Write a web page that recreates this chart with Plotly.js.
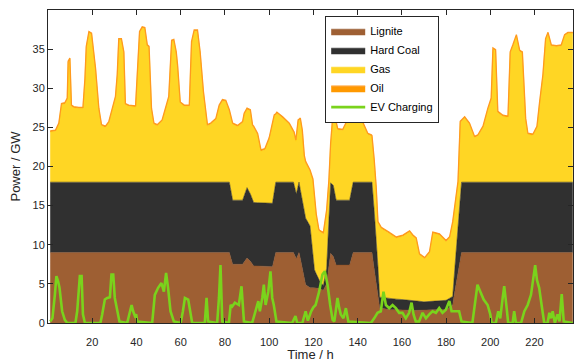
<!DOCTYPE html>
<html>
<head>
<meta charset="utf-8">
<script src="https://cdn.plot.ly/plotly-3.0.1.min.js"></script>
<style>html,body{margin:0;padding:0;background:#fff;}#chart{width:574px;height:362px;}</style>
</head>
<body>
<div id="chart"></div>
<script>
// Time axis key points (hours) for the conventional layers
var lcHours = [1,82,83.5,88,90,91.5,93,101.5,103,111,112.3,113.5,115,116.5,118.5,120.5,122.5,124.5,126,127.8,129,130.3,136.4,138,146.5,148.4,150,155,160,165,170,175,180,183,184.5,187,237.3];
var lignite = [9,9,7.5,7.5,8.3,7.9,7.3,7.2,9,9,8.2,9,7.1,4.9,4.5,4.5,4.4,4.2,5,8.9,8.5,7.4,7.4,9,9,5,1.9,1.7,1.7,1.6,1.6,1.7,1.7,2.3,5,9,9];
var hardCoal = [9,9,8.2,8.2,9.0,8.6,8.1,8.1,9,9,8.3,9,8.5,8.5,7.9,2.3,1.1,0.6,2,9,9.1,8.3,8.3,9,9,6.1,1.4,1.4,1.3,1.3,1.1,1.1,1.2,1.1,4,9,9];

var gasHours = [1,3.4,4.9,6.1,7.6,8.7,9.1,9.9,10.6,11.6,13.9,15.8,16.7,17.3,18.5,19.7,21.5,23,24.2,26,27.5,29,30.5,31.3,32,33.2,34.3,35,36.5,39.6,40.3,41.4,42.6,43.8,44.9,45.7,46.8,47.9,49.4,51.6,53.1,54.6,55.9,56.9,58,58.6,59.8,61.6,63.9,64.9,66.1,67.6,68.8,70.3,72.1,73.6,75.9,77.4,78.9,80.4,82,83.5,85.7,88,88.7,90,91.5,92.5,93,94.8,96.3,98.1,100,101.5,102.3,103,103.5,106.1,109.1,111,111.3,112.1,112.3,113.1,113.5,114.1,115,115.9,116.5,117.5,118.5,119.8,120.5,121.3,122.5,122.8,124.5,126,127,127.8,129,130.3,131,133.3,135.6,136.4,137.1,138,140.1,141.6,144.6,146.2,146.5,147.5,148.4,149.2,150,150.7,154.5,155,157.5,160,160.5,163.5,165,166.5,168,170,170.3,172.5,174,175,177,180,181.6,183,184,184.5,185.4,186.4,187,188.4,190.6,192.9,194.4,196.7,198.9,200.4,201.2,202.4,203.4,205.7,208,209,210.2,211.8,213.3,214.5,216,217,219.3,221.1,222.3,223.8,225,226.1,227.6,229.9,232.1,233.6,235.1,237.3];
var gas = [6.4,6.5,7.4,9.9,10.0,10.6,15.3,15.7,9.7,9.5,9.4,9.4,13.1,17.2,19.1,18.9,14.4,9.3,7.2,7.0,7.6,9.3,10.8,13.6,18.2,18.2,16.5,9.9,9.7,9.6,13.6,19.1,19.7,19.6,17.4,17.2,9.3,7.4,7.2,7.8,9.3,10.8,18.0,18.1,16.5,14.8,10.1,9.7,9.7,17.8,19.3,19.3,16.5,11.4,7.2,7.4,8.0,9.7,10.4,10.3,9.1,9.7,9.4,9.9,10.4,10.0,10.6,9.4,9.6,8.7,6.6,6.8,8.2,10.1,9.7,8.6,8.8,8.2,7.4,6.4,6.6,6.5,7.2,8.3,7.9,9.0,8.9,7.0,7.1,7.1,7.0,9.5,9.4,7.5,6.3,6.3,6.6,7.3,5.0,4.9,9.6,10.1,9.0,8.9,10.3,10.6,10.1,8.8,8.7,8.0,6.1,5.9,5.8,6.4,6.2,5.6,9.0,8.8,8.3,8.2,7.8,8.0,8.1,8.7,8.2,7.9,5.9,5.6,5.5,6.2,8.7,8.6,8.4,7.5,7.7,9.4,7.8,7.3,5.7,9.8,7.8,8.2,7.4,5.7,5.9,7.0,9.3,10.6,17.0,16.8,8.9,8.4,8.3,16.5,17.4,18.7,16.7,16.5,8.0,6.1,6.0,7.0,10.1,13.6,18.2,19.0,17.4,17.3,17.4,18.7,19.0,19.0];

var oilHours = [1,237.3];
var oil = [0.15,0.15];

var evHours = [1,2,3.1,3.8,4.6,5.2,6.4,7.6,8.7,12.4,13.2,14.4,15.2,15.8,16.7,23.7,24.5,25.7,26.8,28,28.7,29.5,30.2,31.3,32.3,35.8,36.9,37.8,38.5,39.3,39.9,40.3,47.1,48.3,49.8,51.3,52.4,53.4,54.3,55.4,56.9,60,61,61.9,63.4,64.5,65.2,70.9,71.7,72.4,76.5,77.3,78,78.8,81.8,82.6,83.3,84.5,85.6,86.3,87.5,88.6,92.3,93.5,95.1,95.8,96.9,97.6,98.4,99.6,100.6,101.4,102.1,103.3,110.4,111.9,112.7,115,116.5,117.5,119,120,121,122.6,124.1,125.2,126.4,127.6,128.7,129.5,130.9,131.7,132.4,133.6,134.7,135.8,146,147.5,149,150.5,151.7,152.8,154.3,155.8,157.3,158.8,160.3,161.8,163.3,164.4,165.3,166.3,167.8,169.4,170.9,172.4,173.9,175.4,176.9,178.4,179.9,181.5,182.5,185.9,187,191.9,193,194.2,195.5,197,198.8,200,200.6,202.5,203.6,204.5,205.6,206.3,207.4,208.1,210.1,210.8,211.6,213.9,215.4,216.9,218.4,219.4,220.3,221.1,222.1,223.2,224.4,225.9,226.7,227.4,228.2,229.2,230.4,231.3,232.3,233.2,236.5,237.3];
var evCharging = [0.2,0.6,3.6,6.0,5.3,4.5,1.5,0.4,0,0,1.5,6.0,6.0,1.1,0,0,1.1,3.0,3.2,3.3,6.2,6.2,3.2,1.5,0.2,0,1.3,2.3,1.5,0.9,1.1,0.2,0,3.6,4.5,5.1,4.0,6.4,4.5,1.5,0.2,0,1.5,3.2,3.0,1.1,0,0,3.2,0.2,0,3.2,7.4,0.2,0,2.3,2.1,2.6,2.4,2.3,4.7,0.2,0,1.1,2.8,1.5,3.2,4.9,2.3,4.0,6.6,3.2,2.3,0.2,0,0.9,0,0,1.5,0.3,1.5,2.0,2.3,4.0,6.2,6.6,4.9,2.3,0.4,0.2,3.2,1.9,1.1,0.6,1.9,0.2,0,0.6,1.3,1.5,4.0,2.3,1.9,2.3,1.9,1.3,1.3,0.6,1.3,2.6,1.1,0.2,0.2,1.3,0.6,1.1,1.5,1.3,1.9,1.3,1.7,2.8,1.5,1.5,0.2,0,2.3,4.9,4.0,3.0,2.3,1.1,0,0,1.5,0.6,3.2,4.7,1.9,0,0,1.5,0,0,1.5,2.3,3.6,5.7,7.4,5.5,4.5,2.3,0,0,1.3,0.6,1.5,0,1.1,0.2,3.7,0.2,0,0];

var xTicks = [20,40,60,80,100,120,140,160,180,200,220];
var yTicks = [0,5,10,15,20,25,30,35];

var traces = [
  {x: lcHours, y: lignite, name: 'Lignite', type: 'scatter', mode: 'lines', stackgroup: 'gen', stackgaps: 'interpolate',
   line: {color: '#8f4f22', width: 0.5}, fillcolor: '#9e5f33'},
  {x: lcHours, y: hardCoal, name: 'Hard Coal', type: 'scatter', mode: 'lines', stackgroup: 'gen', stackgaps: 'interpolate',
   line: {color: '#222222', width: 0.5}, fillcolor: '#303030'},
  {x: gasHours, y: gas, name: 'Gas', type: 'scatter', mode: 'lines', stackgroup: 'gen', stackgaps: 'interpolate',
   line: {color: '#ffd000', width: 0.5}, fillcolor: '#ffd624'},
  {x: oilHours, y: oil, name: 'Oil', type: 'scatter', mode: 'lines', stackgroup: 'gen', stackgaps: 'interpolate',
   line: {color: '#ff9a1f', width: 1.3}, fillcolor: '#ff9900'},
  {x: evHours, y: evCharging, name: 'EV Charging', type: 'scatter', mode: 'lines',
   line: {color: '#7ad31c', width: 2.6}}
];

var layout = {
  width: 574, height: 362,
  margin: {l: 48, r: 1, t: 10, b: 39, pad: 0},
  paper_bgcolor: '#ffffff', plot_bgcolor: '#ffffff',
  font: {family: 'Liberation Sans, Arial, sans-serif', size: 11, color: '#262626'},
  showlegend: true,
  legend: {x: 0.528, y: 0.982, xanchor: 'left', yanchor: 'top', traceorder: 'normal',
           bgcolor: '#ffffff', bordercolor: '#262626', borderwidth: 1,
           font: {size: 11, color: '#000000'}, itemwidth: 34, tracegroupgap: 0},
  xaxis: {range: [0, 237.4], tickvals: xTicks, ticktext: xTicks.map(String), ticks: 'inside', ticklen: 5,
          tickcolor: '#262626', showline: true, linecolor: '#262626', linewidth: 1, mirror: 'ticks',
          showgrid: false, zeroline: false, tickfont: {size: 11, color: '#262626'}, ticklabelstandoff: 9,
          title: {text: 'Time / h', font: {size: 13, color: '#262626'}, standoff: 3}},
  yaxis: {range: [0, 40], tickvals: yTicks, ticktext: yTicks.map(String), ticks: 'inside', ticklen: 5,
          tickcolor: '#262626', showline: true, linecolor: '#262626', linewidth: 1, mirror: 'ticks',
          showgrid: false, zeroline: false, tickfont: {size: 11, color: '#262626'},
          title: {text: 'Power / GW', font: {size: 13, color: '#262626'}, standoff: 8}}
};

Plotly.newPlot('chart', traces, layout, {displayModeBar: false, staticPlot: true});
</script>
</body>
</html>
